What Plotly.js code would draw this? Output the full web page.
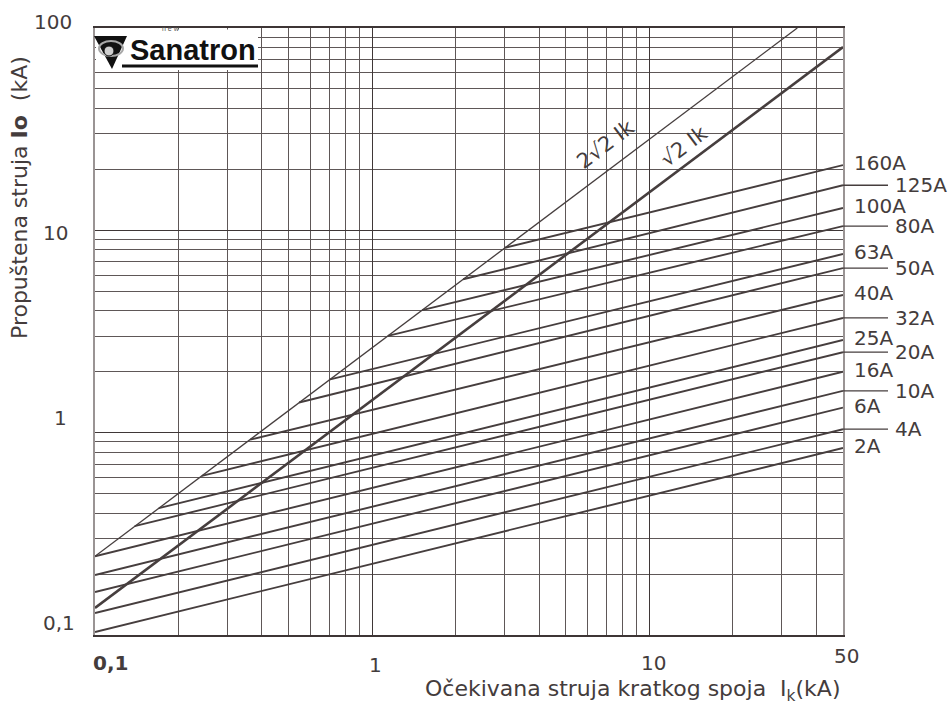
<!DOCTYPE html>
<html><head><meta charset="utf-8">
<script src="https://cdn.plot.ly/plotly-3.0.1.min.js"></script>
<style>html,body{margin:0;padding:0;background:#fff}#chart{width:952px;height:704px}</style>
</head><body><div id="chart"></div>
<script>
// ---- data ----
const ratings   = ['160A','125A','100A','80A','63A','50A','40A','32A','25A','20A','16A','10A','6A','4A','2A'];
const cutStartX = [3.02, 2.13, 1.515, 1.14, 0.70, 0.545, 0.363, 0.243, 0.170, 0.139, 0.1, 0.1, 0.1, 0.1, 0.1];
const cutStartY = [8.2, 5.73, 4.03, 3.01, 1.83, 1.41, 0.924, 0.612, 0.424, 0.345, 0.245, 0.198, 0.163, 0.1285, 0.1035];
const cutEndX   = 50;
const cutEndY   = [21.0, 16.7, 12.9, 10.5, 7.64, 6.51, 4.79, 3.69, 2.87, 2.50, 2.0, 1.61, 1.33, 1.04, 0.84];
const hasLeader = [false,true,false,true,false,true,false,true,false,true,false,true,false,true,false];
const peakX  = [0.1, 34.2];   // 2√2·Ik
const peakY  = [0.245, 100];
const sqrtX  = [0.1, 50];     // √2·Ik
const sqrtY  = [0.136, 80.5];
const xTickVals = [0.1, 1, 10, 50];
const xTickText = ['0,1', '1', '10', '50'];
const yTickVals = [0.1, 1, 10, 100];
const yTickText = ['0,1', '1', '10', '100'];

// ---- layout helpers ----
const W=952,H=704,L=95,R=109,T=28,B=69;
const pw=W-L-R, ph=H-T-B;
const px = x => (x-L)/pw;
const py = y => (H-B-y)/ph;
const INK='#463e3e', TXT='#443c3c';
const FONT='DejaVu Sans';

function minorVals(lo, hi){ const out=[]; for(let d=lo; d<hi; d*=10){ for(let k=2;k<=9;k++){ const v=k*d; if(v<hi-1e-9) out.push(+v.toPrecision(3)); } } return out; }

const traces = [];
ratings.forEach((r,i)=>{
  traces.push({x:[cutStartX[i], cutEndX], y:[cutStartY[i], cutEndY[i]], mode:'lines', name:r,
    line:{color:INK, width:1.9}, hoverinfo:'skip', showlegend:false});
});
traces.push({x:peakX, y:peakY, mode:'lines', line:{color:INK, width:1.3}, hoverinfo:'skip', showlegend:false});
traces.push({x:sqrtX, y:sqrtY, mode:'lines', line:{color:INK, width:2.6}, hoverinfo:'skip', showlegend:false});

const annotations = [];
// right-hand rating labels
ratings.forEach((r,i)=>{
  annotations.push({xref:'paper', yref:'y', x:1, y:Math.log10(cutEndY[i]), xanchor:'left', yanchor:'middle',
    xshift: hasLeader[i] ? 50 : 9, yshift: hasLeader[i] ? 0 : 2, text:r, showarrow:false,
    font:{family:FONT, size:20, color:TXT}});
});
// tick labels
const xNudge = [15, 3, 4, 3], xDrop = [-14, -16, -14, -7];
xTickVals.forEach((v,i)=>{
  annotations.push({xref:'x', yref:'paper', x:Math.log10(v), y:0, xanchor:'center', yanchor:'top',
    xshift:xNudge[i], yshift:xDrop[i], text: i===0 ? '<b>'+xTickText[i]+'</b>' : xTickText[i], showarrow:false,
    font:{family:FONT, size:20, color:TXT}});
});
const yNudge = [12, 15, -3, 6], yRight=[-18,-26,-25,-21];
yTickVals.forEach((v,i)=>{
  annotations.push({xref:'paper', yref:'y', x:0, y:Math.log10(v), xanchor:'right', yanchor:'middle',
    xshift:yRight[i], yshift:yNudge[i], text:yTickText[i], showarrow:false,
    font:{family:FONT, size:20, color:TXT}});
});
// axis titles
annotations.push({xref:'paper', yref:'paper', x:px(633), y:py(690), xanchor:'center', yanchor:'middle',
  text:'Očekivana struja kratkog spoja  I<sub>k</sub>(kA)', showarrow:false, font:{family:FONT, size:22, color:TXT}});
annotations.push({xref:'paper', yref:'paper', x:px(19), y:py(198), xanchor:'center', yanchor:'middle', textangle:-90,
  text:'Propuštena struja <b>Io</b>  (kA)', showarrow:false, font:{family:FONT, size:22, color:TXT}});
// curve labels
annotations.push({xref:'x', yref:'y', x:0.845, y:1.425, text:'2√2 Ik', textangle:-37, showarrow:false,
  font:{family:FONT, size:21, color:TXT}});
annotations.push({xref:'x', yref:'y', x:1.126, y:1.415, text:'√2 Ik', textangle:-37, showarrow:false,
  font:{family:FONT, size:21, color:TXT}});
// logo text
annotations.push({xref:'paper', yref:'paper', x:px(128), y:py(50), xanchor:'left', yanchor:'middle',
  text:'<b>Sanatron</b>', showarrow:false, font:{family:'Liberation Sans', size:29, color:'#111'}});
annotations.push({xref:'paper', yref:'paper', x:px(160), y:py(29), xanchor:'left', yanchor:'middle',
  text:'n e w', showarrow:false, font:{family:'Liberation Sans', size:7, color:'#555'}});

const shapes = [];
// logo
shapes.push({type:'rect', xref:'paper', yref:'paper', x0:px(96), x1:px(258), y0:py(29.5), y1:py(70), fillcolor:'#fff', line:{width:0}, layer:'above'});
shapes.push({type:'path', xref:'paper', yref:'paper', layer:'above',
  path:`M ${px(94)} ${py(36)} L ${px(127)} ${py(36)} L ${px(112)} ${py(69)} Z`, fillcolor:'#111', line:{width:0}});
shapes.push({type:'circle', xref:'paper', yref:'paper', layer:'above', x0:px(99), x1:px(123), y0:py(56), y1:py(41),
  fillcolor:'rgba(0,0,0,0)', line:{color:'#a8a8a8', width:2}});
shapes.push({type:'circle', xref:'paper', yref:'paper', layer:'above', x0:px(104), x1:px(114), y0:py(56), y1:py(46),
  fillcolor:'#cfcfcf', line:{color:'#111', width:1}});
shapes.push({type:'line', xref:'paper', yref:'paper', layer:'above', x0:px(122), x1:px(258), y0:py(66), y1:py(66),
  line:{color:'#111', width:3}});
// leader lines for offset labels
ratings.forEach((r,i)=>{
  if(hasLeader[i]) shapes.push({type:'line', xref:'paper', yref:'y', x0:1, x1:px(888), y0:cutEndY[i], y1:cutEndY[i],
    line:{color:INK, width:1.3}});
});

const gridStyle = {gridcolor:'#3f3737', gridwidth:1};
const minorStyle = {showgrid:true, gridcolor:'#5e5757', gridwidth:1, ticks:''};
const layout = {
  width:W, height:H, margin:{l:L, r:R, t:T, b:B}, paper_bgcolor:'#fff', plot_bgcolor:'#fff',
  font:{family:FONT, color:TXT}, showlegend:false,
  xaxis:Object.assign({type:'log', range:[-1, Math.log10(50)], tickmode:'array', tickvals:xTickVals, showticklabels:false,
    ticks:'', showgrid:true, zeroline:false, showline:true, mirror:true, linecolor:'#3d3535', linewidth:2,
    minor:Object.assign({tickmode:'array', tickvals:minorVals(0.1,50)}, minorStyle)}, gridStyle),
  yaxis:Object.assign({type:'log', range:[-1, 2], tickmode:'array', tickvals:yTickVals, showticklabels:false,
    ticks:'', showgrid:true, zeroline:false, showline:true, mirror:true, linecolor:'#9a9494', linewidth:2,
    minor:Object.assign({tickmode:'array', tickvals:minorVals(0.1,100)}, minorStyle)}, gridStyle),
  annotations, shapes
};
Plotly.newPlot('chart', traces, layout, {staticPlot:true, displayModeBar:false});
</script></body></html>
